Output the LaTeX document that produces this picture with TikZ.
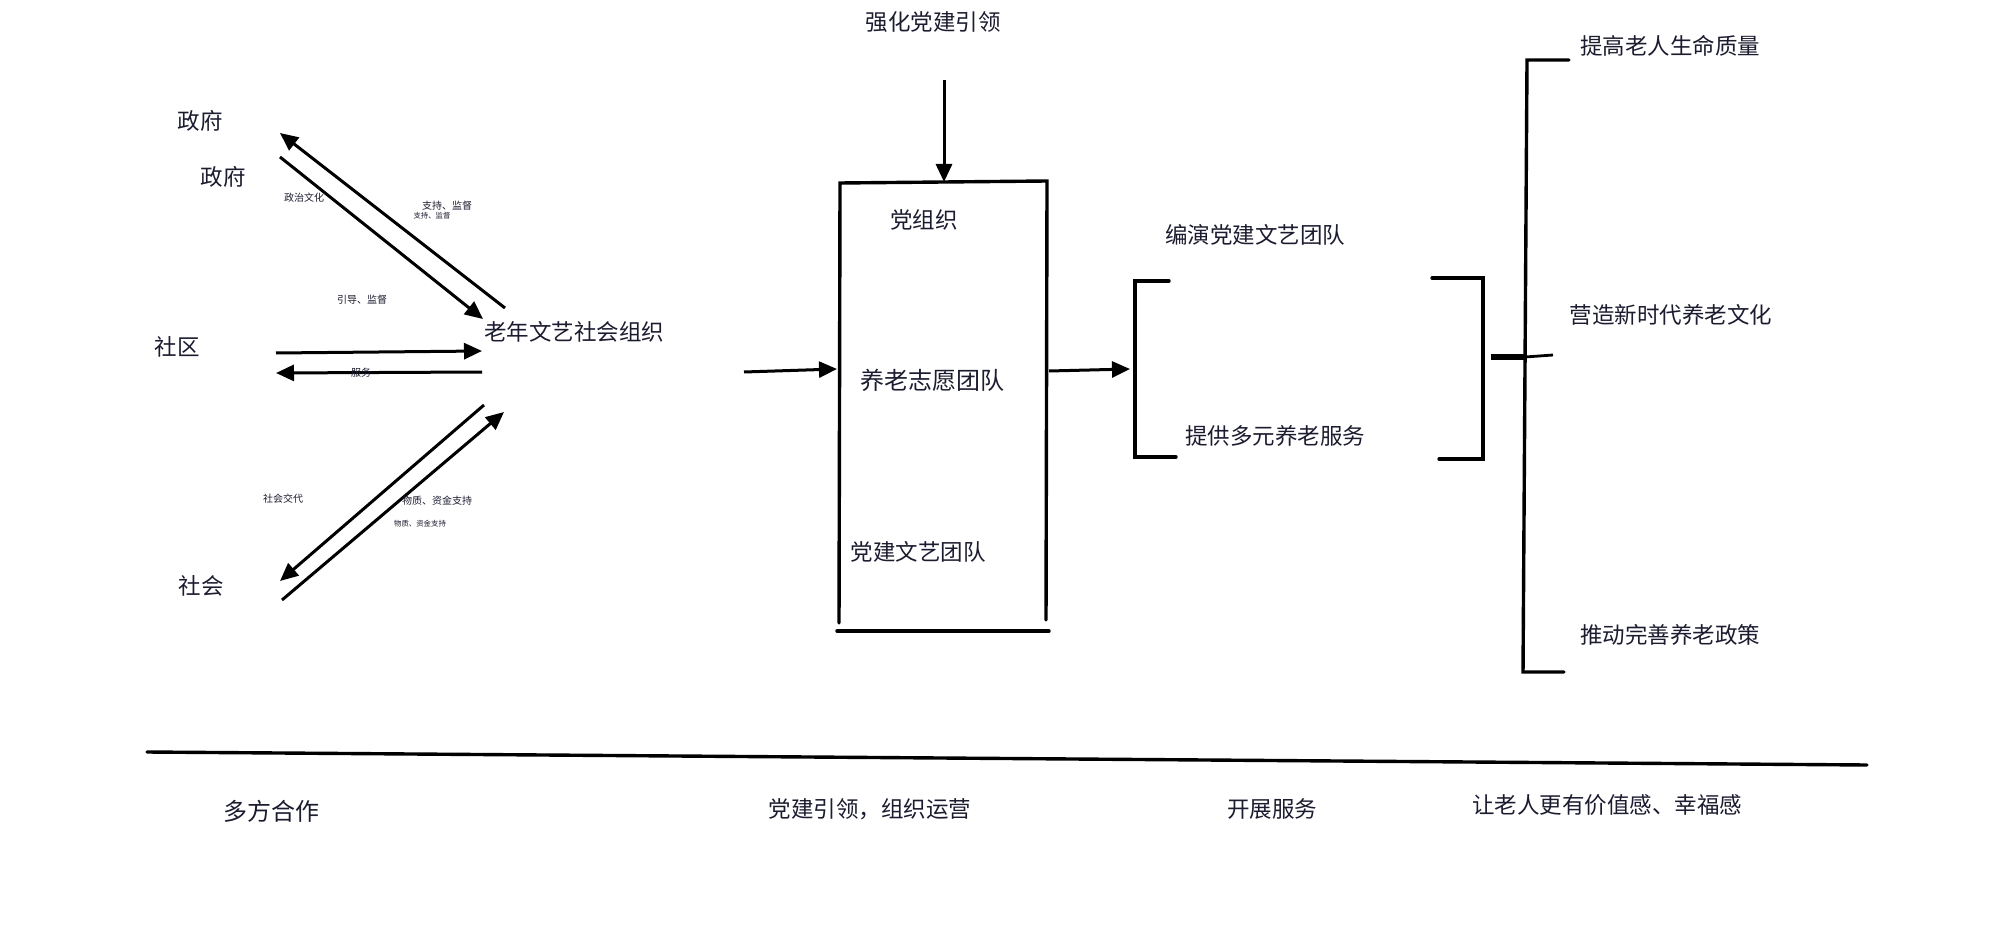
\documentclass[tikz,border=0pt]{standalone}
\usepackage{fontspec}
\newfontfamily\cjk{Noto Sans CJK SC}
\usetikzlibrary{arrows.meta}
\definecolor{txt}{RGB}{28,28,48}
\begin{document}
\begin{tikzpicture}[x=0.5pt,y=-0.5pt,
  lbl/.style={inner sep=0pt, text=txt, font=\cjk\fontsize{11.25}{13}\selectfont},
  big/.style={inner sep=0pt, text=txt, font=\cjk\fontsize{12}{14}\selectfont},
  sml/.style={inner sep=0pt, text=txt, font=\cjk\fontsize{5}{6}\selectfont},
  tinylbl/.style={inner sep=0pt, text=txt, font=\cjk\fontsize{3.7}{4.5}\selectfont},
  arr/.style={line width=1.5pt, -{Triangle[length=9pt,width=8pt]}},
  ln/.style={line width=1.7pt, line cap=round},
]
\useasboundingbox (0,0) rectangle (2000,930);
\fill[white] (0,0) rectangle (2000,930);

% ---- left: multi-party cooperation ----
\node[lbl] (gov1) at (200,121) {政府};
\node[lbl] (gov2) at (223,177) {政府};
\node[lbl,anchor=west] (org) at (484,332) {老年文艺社会组织};
\node[lbl] (comm) at (177,347) {社区};
\node[lbl] (soc) at (201,586) {社会};

\coordinate (g1h) at (280,133);
\coordinate (g1t) at (505,308);
\coordinate (g2t) at (280,157);
\coordinate (g2h) at (483,319);
\coordinate (c1t) at (276,353);
\coordinate (c1h) at (482,351);
\coordinate (c2t) at (482,372);
\coordinate (c2h) at (276,373);
\coordinate (s1t) at (484,405);
\coordinate (s1h) at (280,581);
\coordinate (s2t) at (282,600);
\coordinate (s2h) at (504,412);

\draw[arr] (g1t) -- (g1h);
\draw[arr] (g2t) -- (g2h);
\draw[arr] (c1t) -- (c1h);
\draw[arr] (c2t) -- (c2h);
\draw[arr] (s1t) -- (s1h);
\draw[arr] (s2t) -- (s2h);

\node[sml] (l1) at (304,198) {政治文化};
\node[sml] (l2) at (447,206) {支持、监督};
\node[tinylbl] (l3) at (432,216) {支持、监督};
\node[sml] (l4) at (362,300) {引导、监督};
\node[sml] (l5) at (361,373) {服务};
\node[sml] (l6) at (283,499) {社会交代};
\node[sml] (l7) at (437,501) {物质、资金支持};
\node[tinylbl] (l8) at (420,524) {物质、资金支持};

% ---- middle box ----
\node[lbl] (lead) at (933,22) {强化党建引领};
\coordinate (boxTL) at (840,183);
\coordinate (boxTR) at (1047,181);
\coordinate (boxBL) at (839,623);
\coordinate (boxBR) at (1046,620);
\coordinate (botL) at (837,631);
\coordinate (botR) at (1049,631);
\draw[ln] (boxBL) -- (boxTL) -- (boxTR) -- (boxBR);
\draw[ln] (botL) -- (botR);
\coordinate (leadT) at (944,80);
\coordinate (leadH) at (944,182);
\draw[arr] (leadT) -- (leadH);

\node[lbl] (party) at (924,220) {党组织};
\node[big] (vol) at (932,380) {养老志愿团队};
\node[lbl] (art) at (918,552) {党建文艺团队};

\coordinate (inT) at (744,372);
\coordinate (inH) at (837,369);
\draw[arr] (inT) -- (inH);
\coordinate (outT) at (1049,371);
\coordinate (outH) at (1130,369);
\draw[arr] (outT) -- (outH);

% ---- services bracket ----
\node[lbl] (s1) at (1255,235) {编演党建文艺团队};
\node[lbl] (s2) at (1275,436) {提供多元养老服务};
\draw[ln] (1169,281) -- (1135,281) -- (1135,457) -- (1176,457);
\draw[ln] (1432,278) -- (1483,278) -- (1483,459) -- (1439,459);
\coordinate (tickA) at (1491,357);
\coordinate (tickB) at (1525,357);
\coordinate (tickC) at (1553,355);
\draw[line width=3pt] (tickA) -- (tickB);
\draw[line width=1.4pt] (tickB) -- (tickC);

% ---- outcomes bracket ----
\draw[ln] (1569,60) -- (1527,60) -- (1523,672) -- (1564,672);
\node[lbl] (o1) at (1670,46) {提高老人生命质量};
\node[lbl] (o2) at (1671,315) {营造新时代养老文化};
\node[lbl] (o3) at (1670,635) {推动完善养老政策};

% ---- bottom timeline ----
\coordinate (tlA) at (147,752);
\coordinate (tlB) at (1867,765);
\draw[ln] (tlA) -- (tlB);
\node[big] (b1) at (271,811) {多方合作};
\node[lbl] (b2) at (870,809) {党建引领，组织运营};
\node[lbl] (b3) at (1272,809) {开展服务};
\node[lbl] (b4) at (1607,805) {让老人更有价值感、幸福感};
\end{tikzpicture}
\end{document}
